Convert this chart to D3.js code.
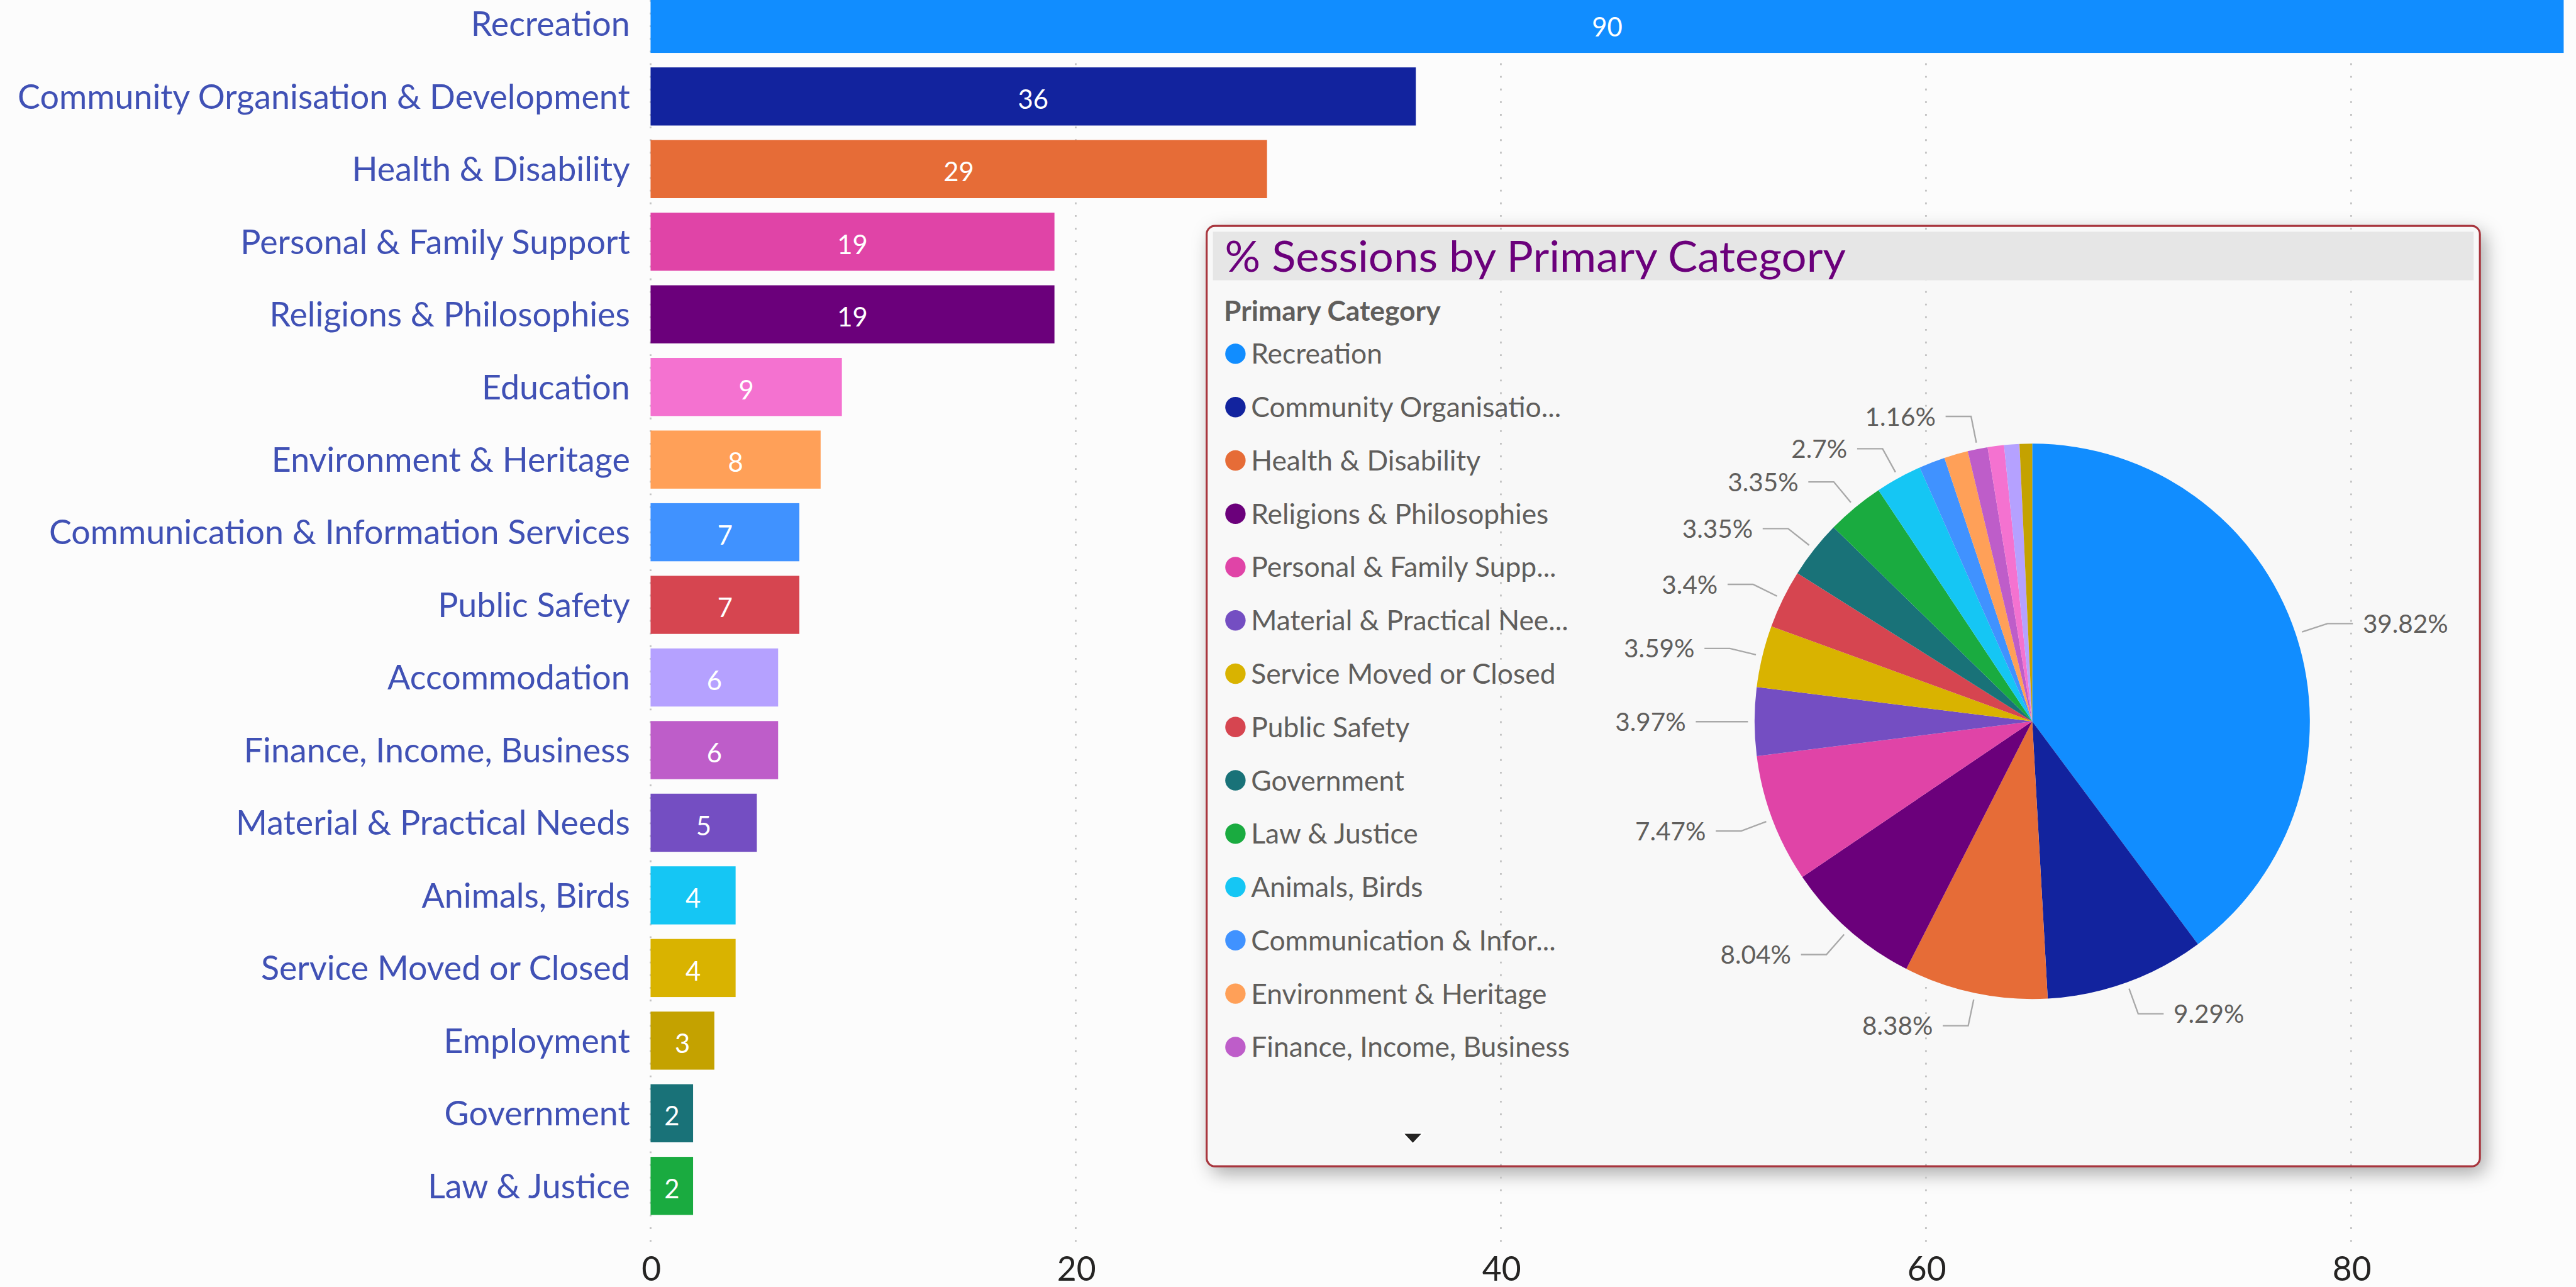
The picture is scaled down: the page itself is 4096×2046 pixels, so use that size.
<!DOCTYPE html>
<html>
<head>
<meta charset="utf-8">
<script src="https://cdn.jsdelivr.net/npm/d3@7"></script>
<style>
  html, body { margin: 0; padding: 0; background: #fcfcfc; }
  svg { display: block; }
  text { font-family: Lato, "Segoe UI", sans-serif; }
</style>
</head>
<body>
<svg id="chart"></svg>
<script>
// ---- data ----
const barCategories = ['Recreation', 'Community Organisation & Development', 'Health & Disability',
    'Personal & Family Support', 'Religions & Philosophies', 'Education', 'Environment & Heritage',
    'Communication & Information Services', 'Public Safety', 'Accommodation', 'Finance, Income, Business',
    'Material & Practical Needs', 'Animals, Birds', 'Service Moved or Closed', 'Employment',
    'Government', 'Law & Justice'];
const barValues = [90, 36, 29, 19, 19, 9, 8, 7, 7, 6, 6, 5, 4, 4, 3, 2, 2];
const xTicks = [0, 20, 40, 60, 80];

const pieCategories = ['Recreation', 'Community Organisation & Development', 'Health & Disability',
    'Religions & Philosophies', 'Personal & Family Support', 'Material & Practical Needs',
    'Service Moved or Closed', 'Public Safety', 'Government', 'Law & Justice', 'Animals, Birds',
    'Communication & Information Services', 'Environment & Heritage', 'Finance, Income, Business',
    'Education', 'Accommodation', 'Employment'];
const pieShares = [39.82, 9.29, 8.38, 8.04, 7.47, 3.97, 3.59, 3.4, 3.35, 3.35, 2.7, 1.52, 1.39, 1.16, 0.95, 0.89, 0.73];
const pieLabelled = ['Recreation', 'Community Organisation & Development', 'Health & Disability',
    'Religions & Philosophies', 'Personal & Family Support', 'Material & Practical Needs',
    'Service Moved or Closed', 'Public Safety', 'Government', 'Law & Justice', 'Animals, Birds',
    'Finance, Income, Business'];
const legendCount = 14;

const categoryColors = {
    'Recreation': '#118DFF',
    'Community Organisation & Development': '#12239E',
    'Health & Disability': '#E66C37',
    'Religions & Philosophies': '#6B007B',
    'Personal & Family Support': '#E044A7',
    'Material & Practical Needs': '#744EC2',
    'Service Moved or Closed': '#D9B300',
    'Public Safety': '#D64550',
    'Government': '#197278',
    'Law & Justice': '#1AAB40',
    'Animals, Birds': '#15C6F4',
    'Communication & Information Services': '#4092FF',
    'Environment & Heritage': '#FFA058',
    'Finance, Income, Business': '#BE5DC9',
    'Education': '#F472D0',
    'Accommodation': '#B5A1FF',
    'Employment': '#C4A200'
};

// ---- setup ----
const K = 4096 / 1568;   // drawn in 1568x783 units, scaled up to the window
const svg = d3.select('#chart').attr('width', 4096).attr('height', 2046);

const defs = svg.append('defs');
defs.append('filter').attr('id', 'cardShadow')
    .attr('x', '-10%').attr('y', '-10%').attr('width', '125%').attr('height', '130%')
  .append('feDropShadow')
    .attr('dx', 3).attr('dy', 4).attr('stdDeviation', 6)
    .attr('flood-color', '#000').attr('flood-opacity', 0.35);

const root = svg.append('g').attr('transform', `scale(${K})`);

// ---- card body (behind gridlines) ----
const card = { x: 734.5, y: 137.5, w: 775, h: 572.3 };
root.append('rect')
    .attr('x', card.x).attr('y', card.y).attr('width', card.w).attr('height', card.h)
    .attr('rx', 5).attr('fill', '#f8f8f8')
    .attr('filter', 'url(#cardShadow)');

// ---- bar chart ----
const xscale = d3.scaleLinear().domain([0, 90]).range([396, 1560.5]);
const yscale = d3.scaleBand().domain(barCategories)
    .range([-7.6, 743.8]).paddingInner(0.2).paddingOuter(0.1);

root.append('g').selectAll('line')
    .data(xTicks)
    .join('line')
    .attr('x1', d => xscale(d)).attr('x2', d => xscale(d))
    .attr('y1', 0).attr('y2', 756)
    .attr('stroke', '#c4c4c4')
    .attr('stroke-width', 1.1)
    .attr('stroke-dasharray', '1.1 6.6');

root.append('g').selectAll('rect')
    .data(barCategories)
    .join('rect')
    .attr('x', xscale(0))
    .attr('y', d => yscale(d))
    .attr('width', (d, i) => xscale(barValues[i]) - xscale(0))
    .attr('height', yscale.bandwidth())
    .attr('fill', d => categoryColors[d]);

root.append('g').selectAll('text')
    .data(barCategories)
    .join('text')
    .attr('x', (d, i) => (xscale(barValues[i]) + xscale(0)) / 2)
    .attr('y', d => yscale(d) + yscale.bandwidth() / 2)
    .attr('dy', '0.47em')
    .attr('text-anchor', 'middle')
    .attr('font-size', 16)
    .attr('fill', '#fff')
    .text((d, i) => barValues[i]);

const yaxis = d3.axisLeft(yscale).tickSize(0).tickPadding(12.5);
root.append('g')
    .attr('transform', `translate(${xscale(0)},0)`)
    .call(yaxis)
    .call(g => g.select('.domain').remove())
    .call(g => g.selectAll('text')
        .attr('font-family', 'Lato, sans-serif')
        .attr('font-size', 20.6)
        .attr('fill', '#4051b5')
        .attr('dy', '0.36em'));

const xaxis = d3.axisBottom(xscale).tickValues(xTicks).tickSize(0).tickPadding(0);
root.append('g')
    .attr('transform', 'translate(0,765)')
    .call(xaxis)
    .call(g => g.select('.domain').remove())
    .call(g => g.selectAll('text')
        .attr('font-family', 'Lato, sans-serif')
        .attr('font-size', 20.4)
        .attr('fill', '#252423'));

// ---- card border + title ----
root.append('rect')
    .attr('x', card.x).attr('y', card.y).attr('width', card.w).attr('height', card.h)
    .attr('rx', 5).attr('fill', 'none')
    .attr('stroke', '#a8353d').attr('stroke-width', 1.2);

root.append('rect')
    .attr('x', 738.3).attr('y', 141).attr('width', 767.4).attr('height', 29.6)
    .attr('fill', '#e6e6e6');

root.append('text')
    .attr('x', 745.5).attr('y', 165.5)
    .attr('font-family', 'Roboto, sans-serif')
    .attr('font-size', 26)
    .attr('textLength', 378)
    .attr('lengthAdjust', 'spacingAndGlyphs')
    .attr('fill', '#6B007B')
    .text('% Sessions by Primary Category');

// ---- legend ----
const legend = root.append('g');
legend.append('text')
    .attr('x', 745).attr('y', 195.2)
    .attr('font-size', 17).attr('font-weight', 700)
    .attr('fill', '#605E5C')
    .text('Primary Category');

const legendItems = legend.selectAll('g.item')
    .data(pieCategories.slice(0, legendCount))
    .join('g')
    .attr('class', 'item')
    .attr('transform', (d, i) => `translate(0,${215.3 + i * 32.45})`);

legendItems.append('circle')
    .attr('cx', 752).attr('cy', 0).attr('r', 6.2)
    .attr('fill', d => categoryColors[d]);

legendItems.append('text')
    .attr('x', 761.5).attr('dy', '0.36em')
    .attr('font-size', 17).attr('fill', '#605E5C')
    .text(d => d)
    .each(function (d) {
        const el = d3.select(this);
        const maxw = 195;
        if (this.getComputedTextLength() <= maxw) return;
        let s = d;
        while (s.length > 1) {
            s = s.slice(0, -1);
            el.text(s + '...');
            if (this.getComputedTextLength() <= maxw) break;
        }
    });

legend.append('path')
    .attr('d', 'M854,689.6 L866,689.6 L860,696 Z')
    .attr('fill', '#252423').attr('stroke', '#fff').attr('stroke-width', 0.8);

// ---- pie ----
const cx = 1237, cy = 439, R = 169;
const arcs = d3.pie().sort(null).value(d => d)(pieShares);
const arc = d3.arc().innerRadius(0).outerRadius(R);
const pieG = root.append('g').attr('transform', `translate(${cx},${cy})`);

pieG.selectAll('path')
    .data(arcs)
    .join('path')
    .attr('d', arc)
    .attr('fill', (d, i) => categoryColors[pieCategories[i]]);

const labels = arcs
    .map((d, i) => ({ d, name: pieCategories[i], value: pieShares[i] }))
    .filter(o => pieLabelled.includes(o.name))
    .map(o => {
        const a = (o.d.startAngle + o.d.endAngle) / 2;
        const side = Math.sin(a) >= 0 ? 1 : -1;
        const ex = 1.12 * R * Math.sin(a);
        const ey = -1.12 * R * Math.cos(a);
        return {
            ...o, side,
            sx: (R + 4) * Math.sin(a), sy: -(R + 4) * Math.cos(a),
            ex, ey, hx: ex + side * 15.5
        };
    });

pieG.selectAll('path.leader')
    .data(labels)
    .join('path')
    .attr('class', 'leader')
    .attr('d', l => `M${l.sx},${l.sy} L${l.ex},${l.ey} L${l.hx},${l.ey}`)
    .attr('fill', 'none')
    .attr('stroke', '#a8a8a8')
    .attr('stroke-width', 0.9);

pieG.selectAll('text.plabel')
    .data(labels)
    .join('text')
    .attr('class', 'plabel')
    .attr('x', l => l.hx + l.side * 6)
    .attr('y', l => l.ey)
    .attr('dy', '0.36em')
    .attr('text-anchor', l => l.side > 0 ? 'start' : 'end')
    .attr('font-size', 15.5)
    .attr('fill', '#605E5C')
    .text(l => (+l.value.toFixed(2)) + '%');
</script>
</body>
</html>
